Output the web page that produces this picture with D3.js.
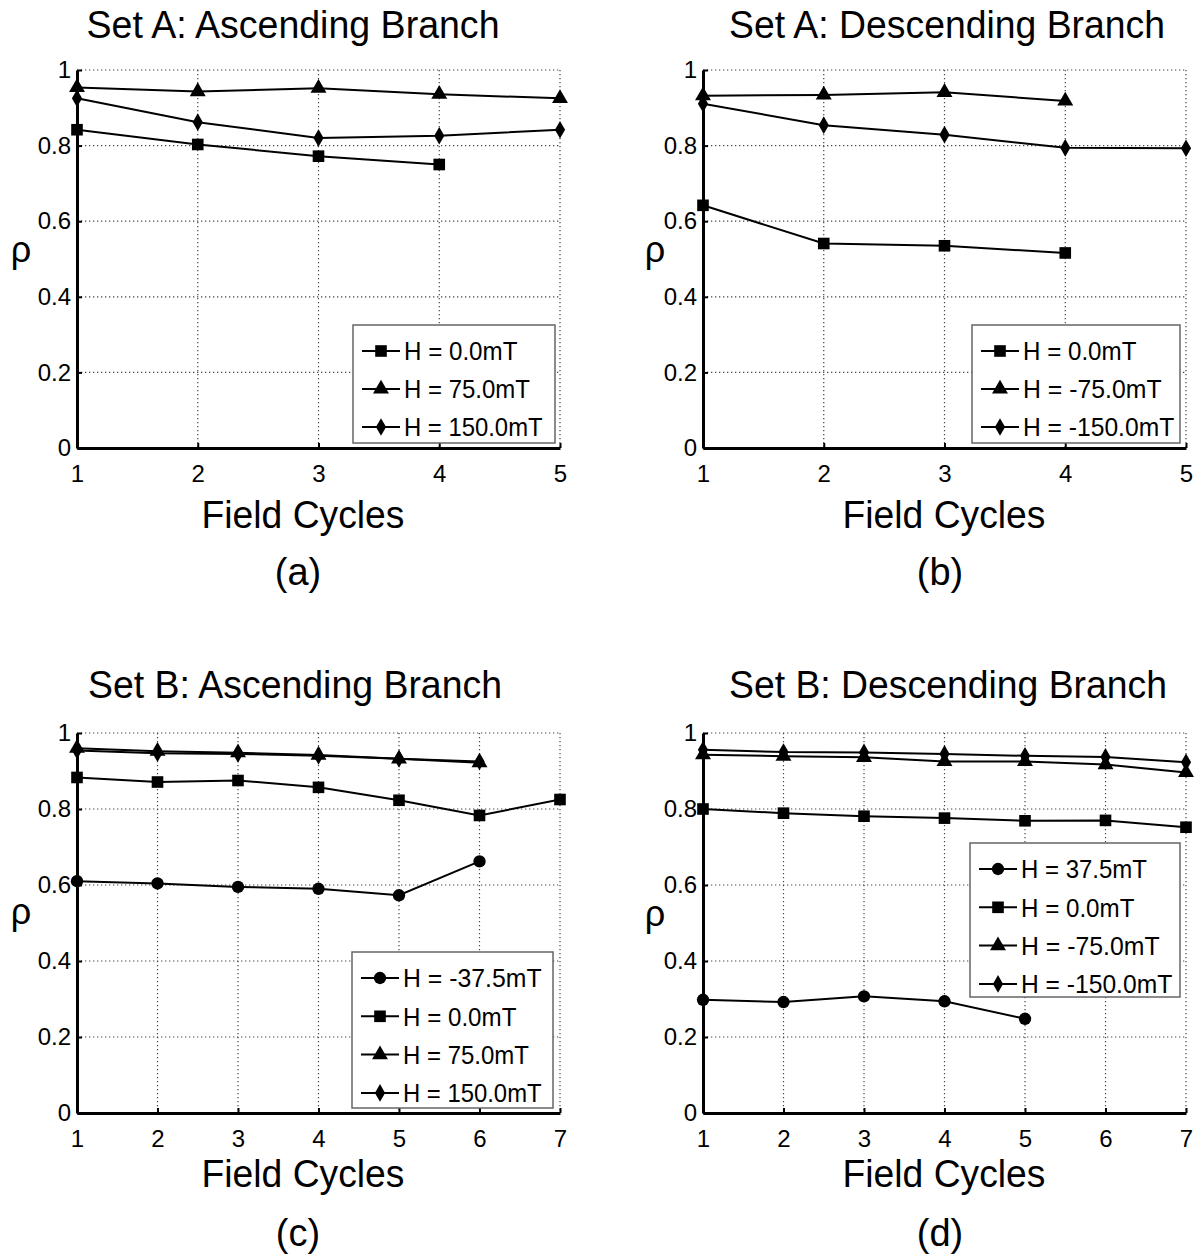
<!DOCTYPE html>
<html>
<head>
<meta charset="utf-8">
<script src="https://cdn.jsdelivr.net/npm/d3@7"></script>
<style>
  html, body { margin: 0; padding: 0; background: #fff; }
  svg text { font-family: "Liberation Sans", Arial, Helvetica, sans-serif; fill: #000; }
</style>
</head>
<body>
<svg id="fig" width="1202" height="1256"></svg>
<script>
// ---- data: remanence ratio rho per field cycle ----
const cyclesA = [1, 2, 3, 4, 5];
const cyclesB = [1, 2, 3, 4, 5, 6, 7];
const yTicks = [0, 0.2, 0.4, 0.6, 0.8, 1];

// Set A, ascending branch
const aAsc_H0   = [0.842, 0.803, 0.772, 0.750];
const aAsc_H75  = [0.954, 0.943, 0.952, 0.936, 0.925];
const aAsc_H150 = [0.925, 0.862, 0.820, 0.826, 0.842];

// Set A, descending branch
const aDesc_H0    = [0.642, 0.541, 0.535, 0.516];
const aDesc_Hm75  = [0.932, 0.934, 0.941, 0.918];
const aDesc_Hm150 = [0.911, 0.854, 0.829, 0.794, 0.793];

// Set B, ascending branch
const bAsc_Hm37 = [0.610, 0.604, 0.595, 0.590, 0.573, 0.662];
const bAsc_H0   = [0.883, 0.871, 0.875, 0.857, 0.823, 0.783, 0.825];
const bAsc_H75  = [0.960, 0.952, 0.948, 0.942, 0.932, 0.922];
const bAsc_H150 = [0.954, 0.947, 0.945, 0.940, 0.932, 0.925];

// Set B, descending branch
const bDesc_H37    = [0.298, 0.292, 0.307, 0.294, 0.248];
const bDesc_H0     = [0.800, 0.789, 0.781, 0.776, 0.769, 0.770, 0.752];
const bDesc_Hm75   = [0.943, 0.939, 0.936, 0.925, 0.925, 0.917, 0.896];
const bDesc_Hm150  = [0.956, 0.950, 0.949, 0.945, 0.940, 0.937, 0.923];

const panels = [
  { title: "Set A: Ascending Branch", tag: "(a)", cycles: cyclesA,
    box: { x0: 77, x1: 560, y0: 70, y1: 448 },
    titleX: 293, titleW: 413, titleY: 38, xlabX: 303, xlabY: 528, tagX: 298, tagY: 585, rhoX: 21, rhoY: 262,
    legend: { x: 353, y: 325, w: 202, h: 118, rowH: 38 },
    series: [
      { label: "H = 0.0mT",   shape: "square",   values: aAsc_H0 },
      { label: "H = 75.0mT",  shape: "triangle", values: aAsc_H75 },
      { label: "H = 150.0mT", shape: "diamond",  values: aAsc_H150 } ] },
  { title: "Set A: Descending Branch", tag: "(b)", cycles: cyclesA,
    box: { x0: 703, x1: 1186, y0: 70, y1: 448 },
    titleX: 947, titleW: 436, titleY: 38, xlabX: 944, xlabY: 528, tagX: 940, tagY: 585, rhoX: 655, rhoY: 262,
    legend: { x: 972, y: 325, w: 208, h: 118, rowH: 38 },
    series: [
      { label: "H = 0.0mT",    shape: "square",   values: aDesc_H0 },
      { label: "H = -75.0mT",  shape: "triangle", values: aDesc_Hm75 },
      { label: "H = -150.0mT", shape: "diamond",  values: aDesc_Hm150 } ] },
  { title: "Set B: Ascending Branch", tag: "(c)", cycles: cyclesB,
    box: { x0: 77, x1: 560, y0: 733, y1: 1113 },
    titleX: 295, titleW: 414, titleY: 698, xlabX: 303, xlabY: 1187, tagX: 298, tagY: 1246, rhoX: 21, rhoY: 924,
    legend: { x: 352, y: 952, w: 201, h: 156, rowH: 38.3 },
    series: [
      { label: "H = -37.5mT", shape: "circle",   values: bAsc_Hm37 },
      { label: "H = 0.0mT",   shape: "square",   values: bAsc_H0 },
      { label: "H = 75.0mT",  shape: "triangle", values: bAsc_H75 },
      { label: "H = 150.0mT", shape: "diamond",  values: bAsc_H150 } ] },
  { title: "Set B: Descending Branch", tag: "(d)", cycles: cyclesB,
    box: { x0: 703, x1: 1186, y0: 733, y1: 1113 },
    titleX: 948, titleW: 438, titleY: 698, xlabX: 944, xlabY: 1187, tagX: 940, tagY: 1246, rhoX: 655, rhoY: 926,
    legend: { x: 970, y: 843, w: 210, h: 154, rowH: 38.3 },
    series: [
      { label: "H = 37.5mT",   shape: "circle",   values: bDesc_H37 },
      { label: "H = 0.0mT",    shape: "square",   values: bDesc_H0 },
      { label: "H = -75.0mT",  shape: "triangle", values: bDesc_Hm75 },
      { label: "H = -150.0mT", shape: "diamond",  values: bDesc_Hm150 } ] }
];

const symbolFor = {
  square:   d3.symbol().type(d3.symbolSquare).size(135),
  triangle: d3.symbol().type(d3.symbolTriangle).size(110),
  diamond:  d3.symbol().type(d3.symbolDiamond).size(90),
  circle:   d3.symbol().type(d3.symbolCircle).size(120)
};

const svg = d3.select("#fig");

panels.forEach(p => {
  const b = p.box;
  const g = svg.append("g");
  const x = d3.scaleLinear().domain([1, d3.max(p.cycles)]).range([b.x0, b.x1]);
  const y = d3.scaleLinear().domain([0, 1]).range([b.y1, b.y0]);

  // dotted grid, including the top and right edges
  g.append("g").selectAll("line").data(p.cycles.slice(1)).join("line")
    .attr("x1", d => x(d)).attr("x2", d => x(d))
    .attr("y1", b.y0).attr("y2", b.y1)
    .attr("stroke", "#444").attr("stroke-width", 1.2).attr("stroke-dasharray", "1.3,2.7");
  g.append("g").selectAll("line").data(yTicks.slice(1)).join("line")
    .attr("x1", b.x0).attr("x2", b.x1)
    .attr("y1", d => y(d)).attr("y2", d => y(d))
    .attr("stroke", "#444").attr("stroke-width", 1.2).attr("stroke-dasharray", "1.3,2.7");

  // axes
  const xAxis = d3.axisBottom(x).tickValues(p.cycles).tickFormat(d3.format("d"))
    .tickSizeInner(-5).tickSizeOuter(0).tickPadding(17);
  const yAxis = d3.axisLeft(y).tickValues(yTicks).tickFormat(d => d === 0 || d === 1 ? String(d) : d3.format(".1f")(d))
    .tickSizeInner(-5).tickSizeOuter(0).tickPadding(6);

  const gx = g.append("g").attr("transform", `translate(0,${b.y1})`).call(xAxis);
  const gy = g.append("g").attr("transform", `translate(${b.x0},0)`).call(yAxis);
  [gx, gy].forEach(a => {
    a.select(".domain").attr("stroke", "#000").attr("stroke-width", 3);
    a.selectAll(".tick line").attr("stroke", "#000").attr("stroke-width", 2);
    a.selectAll(".tick text").attr("font-size", 24).attr("fill", "#000")
      .style("font-family", "'Liberation Sans', Arial, sans-serif");
  });
  gx.selectAll(".tick text").attr("dy", "0.71em");

  // series lines and markers
  const line = d3.line().x((d, i) => x(p.cycles[i])).y(d => y(d));
  p.series.forEach(s => {
    g.append("path").datum(s.values).attr("d", line)
      .attr("fill", "none").attr("stroke", "#000").attr("stroke-width", 2);
    g.append("g").selectAll("path").data(s.values).join("path")
      .attr("d", symbolFor[s.shape]())
      .attr("transform", (d, i) => `translate(${x(p.cycles[i])},${y(d)})`)
      .attr("fill", "#000");
  });

  // legend
  const L = p.legend;
  const lg = g.append("g");
  lg.append("rect").attr("x", L.x).attr("y", L.y).attr("width", L.w).attr("height", L.h)
    .attr("fill", "#fff").attr("stroke", "#666").attr("stroke-width", 1.5);
  p.series.forEach((s, i) => {
    const ry = L.y + 26 + i * L.rowH;
    lg.append("line").attr("x1", L.x + 9).attr("x2", L.x + 47).attr("y1", ry).attr("y2", ry)
      .attr("stroke", "#000").attr("stroke-width", 2);
    lg.append("path").attr("d", symbolFor[s.shape]())
      .attr("transform", `translate(${L.x + 28},${ry})`).attr("fill", "#000");
    lg.append("text").attr("x", L.x + 51).attr("y", ry).attr("dy", "0.37em")
      .attr("font-size", 25).attr("textLength", s.label.length * 12.6)
      .attr("lengthAdjust", "spacingAndGlyphs").text(s.label);
  });

  // titles and labels
  g.append("text").attr("x", p.titleX).attr("y", p.titleY).attr("text-anchor", "middle")
    .attr("font-size", 38).attr("textLength", p.titleW).attr("lengthAdjust", "spacingAndGlyphs")
    .text(p.title);
  g.append("text").attr("x", p.xlabX).attr("y", p.xlabY).attr("text-anchor", "middle")
    .attr("font-size", 38).attr("textLength", 203).attr("lengthAdjust", "spacingAndGlyphs")
    .text("Field Cycles");
  g.append("text").attr("x", p.tagX).attr("y", p.tagY).attr("text-anchor", "middle")
    .attr("font-size", 38).text(p.tag);
  g.append("text").attr("x", p.rhoX).attr("y", p.rhoY).attr("text-anchor", "middle")
    .attr("font-size", 36).text("ρ");
});
</script>
</body>
</html>
